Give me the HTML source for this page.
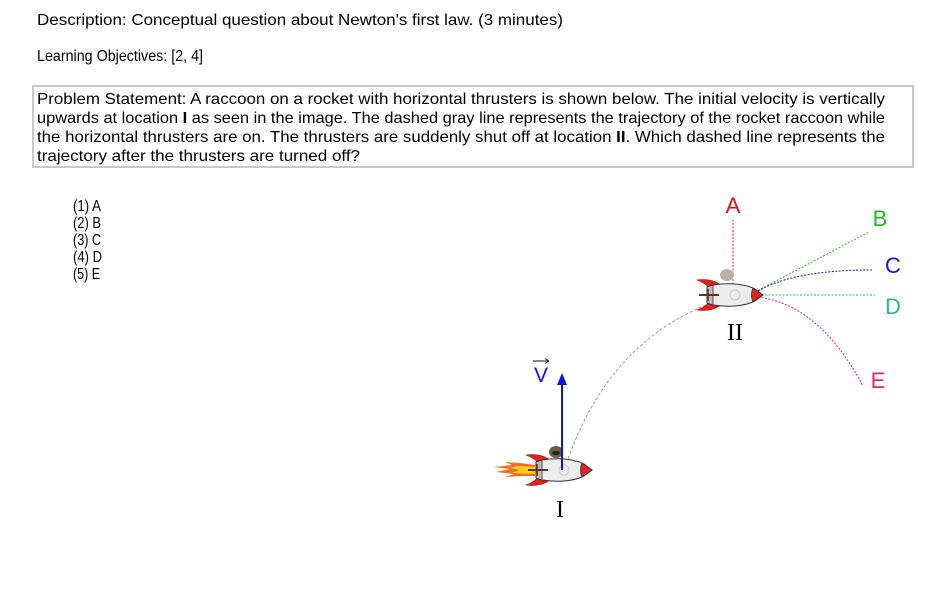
<!DOCTYPE html>
<html><head><meta charset="utf-8"><style>
html,body{margin:0;padding:0;background:#fff;width:930px;height:604px;overflow:hidden}
svg{display:block}
text{font-family:"Liberation Sans",sans-serif}
</style></head><body>
<svg width="930" height="604" viewBox="0 0 930 604" xmlns="http://www.w3.org/2000/svg">
<defs>
<g id="rocket">
  <path d="M-12,-10 C-20,-16 -30,-16 -36,-15 C-28,-12 -24,-8 -22,-5 Z" fill="#e02020" stroke="#801010" stroke-width="0.6"/>
  <path d="M-12,10 C-20,16 -30,16 -36,15 C-28,12 -24,8 -22,5 Z" fill="#e02020" stroke="#801010" stroke-width="0.6"/>
  <path d="M-26,-8 L-20,-10 C0,-13 14,-10 22,-6 L30,0 L22,6 C14,10 0,13 -20,10 L-26,8 Z" fill="#ededed" stroke="#333" stroke-width="1"/>
  <path d="M-26,-8 L-20,-10 L-20,10 L-26,8 Z" fill="#bbb" stroke="#333" stroke-width="0.8"/>
  <path d="M20,-7 L30,0 L20,7 C18,3 18,-3 20,-7 Z" fill="#e82020" stroke="#333" stroke-width="0.8"/>
  <circle cx="2" cy="0" r="5" fill="none" stroke="#ccc" stroke-width="1"/>
  <line x1="-34" y1="0" x2="-14" y2="0" stroke="#6b2b2b" stroke-width="2"/>
  <line x1="-25" y1="-6" x2="-25" y2="6" stroke="#6b2b2b" stroke-width="1.5"/>
</g>
</defs>

<g font-size="16">
<text x="37" y="25" textLength="526" lengthAdjust="spacingAndGlyphs">Description:  Conceptual question about Newton's first law.  (3 minutes)</text>
<text x="37" y="61" textLength="166" lengthAdjust="spacingAndGlyphs">Learning Objectives:  [2, 4]</text>

<rect x="33" y="86" width="880" height="81" fill="none" stroke="#c8c8c8" stroke-width="2"/>
<text x="37" y="104" textLength="848" lengthAdjust="spacingAndGlyphs">Problem Statement:  A raccoon on a rocket with horizontal thrusters is shown below.  The initial velocity is vertically</text>
<text x="37" y="123" textLength="848" lengthAdjust="spacingAndGlyphs">upwards at location <tspan font-weight="bold">I</tspan> as seen in the image.  The dashed gray line represents the trajectory of the rocket raccoon while</text>
<text x="37" y="142" textLength="848" lengthAdjust="spacingAndGlyphs">the horizontal thrusters are on.  The thrusters are suddenly shut off at location <tspan font-weight="bold">II</tspan>.  Which dashed line represents the</text>
<text x="37" y="161" textLength="323" lengthAdjust="spacingAndGlyphs">trajectory after the thrusters are turned off?</text>

<text x="73" y="211" textLength="28" lengthAdjust="spacingAndGlyphs">(1)  A</text>
<text x="73" y="228" textLength="28" lengthAdjust="spacingAndGlyphs">(2)  B</text>
<text x="73" y="245" textLength="28" lengthAdjust="spacingAndGlyphs">(3)  C</text>
<text x="73" y="262" textLength="29" lengthAdjust="spacingAndGlyphs">(4)  D</text>
<text x="73" y="279" textLength="27" lengthAdjust="spacingAndGlyphs">(5)  E</text>
</g>

<path d="M565,468 Q610,330 735,295" fill="none" stroke="#999" stroke-width="1" stroke-dasharray="3,2"/>
<line x1="733" y1="295" x2="733" y2="220" stroke="#e02020" stroke-width="1" stroke-dasharray="2,1.5"/>
<line x1="755" y1="292" x2="869" y2="232" stroke="#22bb22" stroke-width="1" stroke-dasharray="2,1.5"/>
<path d="M755,293 Q790,270 872,270" fill="none" stroke="#1515dd" stroke-width="1" stroke-dasharray="2,1.5"/>
<line x1="758" y1="295" x2="875" y2="295" stroke="#20b8a0" stroke-width="1" stroke-dasharray="2,1.5"/>
<path d="M758,297 Q820,305 863,386" fill="none" stroke="#ee2266" stroke-width="1" stroke-dasharray="2,1.5"/>

<text x="733" y="213" font-size="22" fill="#dd1111" text-anchor="middle">A</text>
<text x="880" y="226" font-size="22" fill="#22bb22" text-anchor="middle">B</text>
<text x="893" y="273" font-size="22" fill="#1515dd" text-anchor="middle">C</text>
<text x="893" y="314" font-size="22" fill="#20b8a0" text-anchor="middle">D</text>
<text x="878" y="388" font-size="22" fill="#ee2266" text-anchor="middle">E</text>

<path d="M535,465 L520,463 L505,462 L512,465 L494,467 L510,469 L496,472 L514,474 L505,477 L522,476 L535,476 Z" fill="#f27020"/>
<path d="M535,467 L518,466 L510,468 L520,470 L512,473 L535,474 Z" fill="#f8d020"/>

<ellipse cx="556" cy="452" rx="7" ry="6" fill="#6a5a48"/>
<ellipse cx="556" cy="453" rx="4" ry="2" fill="#222"/>
<ellipse cx="727" cy="275" rx="7" ry="6" fill="#b8b0a8"/>

<use href="#rocket" x="562" y="470"/>
<use href="#rocket" x="733" y="295"/>

<line x1="562" y1="470" x2="562" y2="382" stroke="#1111dd" stroke-width="2"/>
<path d="M562,373 L557,385 L567,385 Z" fill="#1111dd"/>
<text x="541" y="382" font-size="21" fill="#1111dd" text-anchor="middle">V</text>
<line x1="533" y1="361" x2="549" y2="361" stroke="#111" stroke-width="1"/>
<path d="M549,361 L545,358.5 M549,361 L545,363.5" stroke="#111" stroke-width="1" fill="none"/>

<text x="560" y="517" font-size="24" text-anchor="middle" style="font-family:'Liberation Serif',serif">I</text>
<text x="735" y="340" font-size="24" text-anchor="middle" style="font-family:'Liberation Serif',serif">II</text>
</svg>
</body></html>
